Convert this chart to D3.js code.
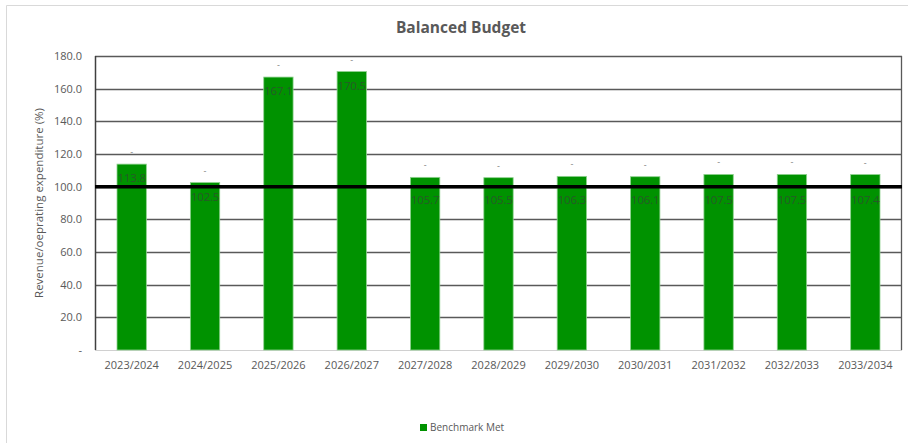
<!DOCTYPE html>
<html>
<head>
<meta charset="utf-8">
<script src="https://cdn.jsdelivr.net/npm/d3@7"></script>
<style>
  html, body { margin: 0; padding: 0; background: #fff; }
  svg { display: block; }
  text { font-family: "Open Sans", "Noto Sans", sans-serif; }
</style>
</head>
<body>
<svg id="chart" width="908" height="443"></svg>
<script>
// Financial years and revenue / operating expenditure ratio (%)
const years = ["2023/2024", "2024/2025", "2025/2026", "2026/2027", "2027/2028",
               "2028/2029", "2029/2030", "2030/2031", "2031/2032", "2032/2033", "2033/2034"];
const benchmarkMet = [113.8, 102.5, 167.1, 170.5, 105.7, 105.5, 106.3, 106.1, 107.5, 107.5, 107.4];
const yTicks = [0, 20, 40, 60, 80, 100, 120, 140, 160, 180];
const benchmarkLevel = 100;
const chartTitle = "Balanced Budget";
const yTitle = "Revenue/oeprating expenditure (%)";
const seriesName = "Benchmark Met";

const svg = d3.select("#chart");
const W = 908, H = 443;
const m = { left: 95, right: 6, top: 56, bottom: 93 };
const plotW = W - m.left - m.right;
const plotH = H - m.top - m.bottom;

// outer chart frame
svg.append("path")
  .attr("d", `M6.5,${H} V5.5 H${W}`)
  .attr("fill", "none").attr("stroke", "#d9d9d9").attr("stroke-width", 1);

const x = d3.scaleBand().domain(years).range([m.left, m.left + plotW]).paddingInner(0.6).paddingOuter(0.3);
const y = d3.scaleLinear().domain([0, 180]).range([m.top + plotH, m.top]);

// title
svg.append("text")
  .attr("x", 461).attr("y", 33)
  .attr("text-anchor", "middle")
  .attr("font-size", 15.5).attr("font-weight", "bold").attr("fill", "#595959")
  .text(chartTitle);

// gridlines
svg.append("g").selectAll("line")
  .data(yTicks.filter(t => t > 0))
  .join("line")
  .attr("x1", m.left).attr("x2", m.left + plotW)
  .attr("y1", d => Math.round(y(d)) + 0.5).attr("y2", d => Math.round(y(d)) + 0.5)
  .attr("stroke", "#595959").attr("stroke-width", 1.3);

// baseline
svg.append("line")
  .attr("x1", m.left).attr("x2", m.left + plotW)
  .attr("y1", y(0) + 0.5).attr("y2", y(0) + 0.5)
  .attr("stroke", "#d0d0d0").attr("stroke-width", 1);

// left and right plot edges
svg.append("line")
  .attr("x1", m.left + 0.5).attr("x2", m.left + 0.5)
  .attr("y1", y(180)).attr("y2", y(0))
  .attr("stroke", "#404040").attr("stroke-width", 1.5);
svg.append("line")
  .attr("x1", m.left + plotW - 0.5).attr("x2", m.left + plotW - 0.5)
  .attr("y1", y(180)).attr("y2", y(0))
  .attr("stroke", "#595959").attr("stroke-width", 1.3);

// y axis
const yAxis = d3.axisLeft(y).tickValues(yTicks)
  .tickFormat(d => d === 0 ? "-" : d3.format(".1f")(d))
  .tickSize(0).tickPadding(13);
const gy = svg.append("g").attr("transform", `translate(${m.left},0)`).call(yAxis);
gy.select(".domain").remove();
gy.selectAll("text").attr("font-size", 11).attr("fill", "#595959")
  .attr("font-family", "'Open Sans', sans-serif");

// x axis
const xAxis = d3.axisBottom(x).tickSize(0).tickPadding(11);
const gx = svg.append("g").attr("transform", `translate(0,${y(0)})`).call(xAxis);
gx.select(".domain").remove();
gx.selectAll("text").attr("font-size", 11).attr("fill", "#595959")
  .attr("font-family", "'Open Sans', sans-serif");

// y axis title
svg.append("text")
  .attr("transform", `translate(43,${(y(0) + y(180)) / 2}) rotate(-90)`)
  .attr("text-anchor", "middle")
  .attr("font-size", 11.5).attr("fill", "#595959")
  .text(yTitle);

// bars
const data = years.map((yr, i) => ({ year: yr, value: benchmarkMet[i] }));
svg.append("g").selectAll("rect")
  .data(data)
  .join("rect")
  .attr("x", d => x(d.year))
  .attr("width", x.bandwidth())
  .attr("y", d => y(d.value))
  .attr("height", d => y(0) - y(d.value))
  .attr("fill", "#009200")
  .attr("stroke", "#8fd18f").attr("stroke-width", 0.8);

// small dash markers above each bar
svg.append("g").selectAll("text")
  .data(data)
  .join("text")
  .attr("x", d => x(d.year) + x.bandwidth() / 2)
  .attr("y", d => y(d.value) - 9)
  .attr("text-anchor", "middle")
  .attr("font-size", 9).attr("fill", "#7f7f7f")
  .text("-");

// 100% benchmark line
svg.append("line")
  .attr("x1", m.left).attr("x2", m.left + plotW)
  .attr("y1", y(benchmarkLevel)).attr("y2", y(benchmarkLevel))
  .attr("stroke", "#000").attr("stroke-width", 3.5);

// value labels; kept clear of the benchmark line
const lineY = y(benchmarkLevel);
svg.append("g").selectAll("text")
  .data(data)
  .join("text")
  .attr("x", d => x(d.year) + x.bandwidth() / 2)
  .attr("y", d => {
    let cy = y(d.value) + 14;
    if (Math.abs(cy - lineY) < 7) cy = lineY + 13;
    return cy + 4;
  })
  .attr("text-anchor", "middle")
  .attr("font-size", 11.5).attr("letter-spacing", -0.2)
  .attr("fill", "#2f4f2f").attr("fill-opacity", 0.85)
  .text(d => d3.format(".1f")(d.value));

// legend
svg.append("rect")
  .attr("x", 420).attr("y", 424).attr("width", 7).attr("height", 7)
  .attr("fill", "#009200");
svg.append("text")
  .attr("x", 430).attr("y", 431)
  .attr("font-size", 10).attr("fill", "#595959")
  .text(seriesName);
</script>
</body>
</html>
